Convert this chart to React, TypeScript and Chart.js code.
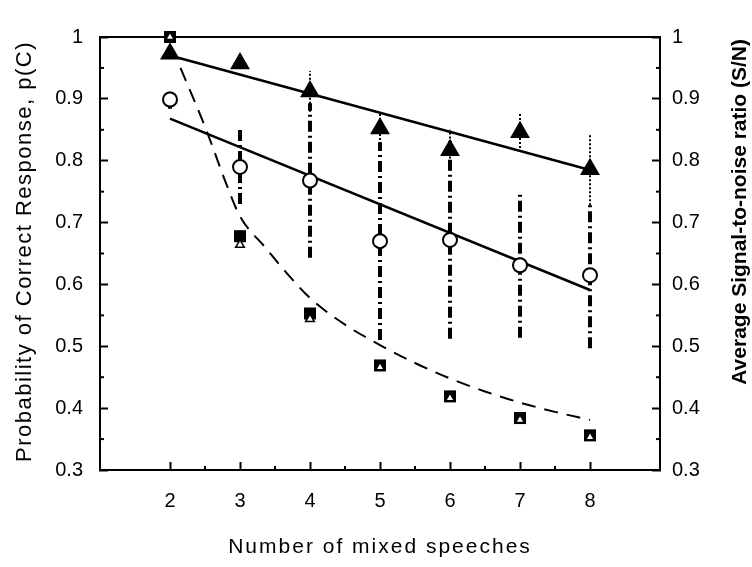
import { useEffect, useRef } from "react";
import { Chart, registerables } from "chart.js";

Chart.register(...registerables);

// ---------- data ----------
const speeches = [2, 3, 4, 5, 6, 7, 8];
// p(C), filled triangles
const pcTriangle = [0.973, 0.957, 0.912, 0.852, 0.817, 0.846, 0.786];
const pcTriangleErr = [0, 0, 0.033, 0.025, 0.033, 0.032, 0.058];
// p(C), open circles
const pcCircle = [0.899, 0.79, 0.768, 0.67, 0.672, 0.631, 0.615];
const pcCircleErr = [0.015, 0.06, 0.125, 0.16, 0.16, 0.117, 0.118];
// S/N, filled squares and open triangles
const snSquare = [1.0, 0.678, 0.553, 0.469, 0.419, 0.384, 0.356];
const snTriangle = [1.0, 0.664, 0.544, 0.466, 0.416, 0.381, 0.353];
// regression lines
const fitUpperX = [2, 8];
const fitUpperY = [0.97, 0.785];
const fitLowerX = [2, 8];
const fitLowerY = [0.868, 0.591];
// S/N fitted curve (dashed)
const snFitX = [2.15, 2.5, 2.83, 3, 3.36, 3.67, 4, 4.5, 5, 5.5, 6, 6.5, 7, 7.5, 8];
const snFitY = [0.95, 0.855, 0.755, 0.71, 0.66, 0.618, 0.578, 0.535, 0.502, 0.473, 0.448, 0.427, 0.409, 0.394, 0.381];

const xTickValues = [2, 3, 4, 5, 6, 7, 8];
const xTickLabels = ["2", "3", "4", "5", "6", "7", "8"];
const yTickValues = [0.3, 0.4, 0.5, 0.6, 0.7, 0.8, 0.9, 1.0];
const yTickLabels = ["0.3", "0.4", "0.5", "0.6", "0.7", "0.8", "0.9", "1"];

const xTitle = "Number of mixed speeches";
const yLeftTitle = "Probability of Correct Response, p(C)";
const yRightTitle = "Average Signal-to-noise ratio (S/N)";

const FONT = "'Liberation Sans', Arial, Helvetica, sans-serif";

const pts = (xs: number[], ys: number[]) => xs.map((x, i) => ({ x, y: ys[i] }));
const bars = (xs: number[], c: number[], e: number[]) =>
  xs.flatMap((x, i) =>
    e[i] > 0
      ? [
          { x, y: c[i] - e[i] },
          { x, y: c[i] + e[i] },
          { x, y: null as any },
        ]
      : []
  );

const labelFor = (vals: number[], labels: string[]) => (v: any) => {
  const i = vals.findIndex((t) => Math.abs(t - Number(v)) < 1e-9);
  return i >= 0 ? labels[i] : "";
};

export default function App() {
  const ref = useRef<HTMLCanvasElement>(null);

  useEffect(() => {
    document.body.style.margin = "0";
    const canvas = ref.current;
    if (!canvas) return;

    const minorTicks = {
      id: "minorTicks",
      afterDraw(chart: any) {
        const c = chart.ctx;
        const a = chart.chartArea;
        const len = 4;
        c.save();
        c.strokeStyle = "#000";
        c.lineWidth = 2;
        const xs = chart.scales.x;
        const xt = xs.ticks.map((t: any) => t.value);
        for (let i = 0; i < xt.length - 1; i++) {
          const px = xs.getPixelForValue((xt[i] + xt[i + 1]) / 2);
          c.beginPath();
          c.moveTo(px, a.bottom);
          c.lineTo(px, a.bottom - len);
          c.stroke();
        }
        for (const id of ["y", "y2"]) {
          const s = chart.scales[id];
          const vt = s.ticks.map((t: any) => t.value);
          const x0 = id === "y" ? a.left : a.right;
          const dir = id === "y" ? 1 : -1;
          for (let i = 0; i < vt.length - 1; i++) {
            const py = s.getPixelForValue((vt[i] + vt[i + 1]) / 2);
            c.beginPath();
            c.moveTo(x0, py);
            c.lineTo(x0 + dir * len, py);
            c.stroke();
          }
        }
        c.restore();
      },
    };

    const axisTitles = {
      id: "axisTitles",
      afterDraw(chart: any) {
        const c = chart.ctx;
        const a = chart.chartArea;
        c.save();
        c.fillStyle = "#000";
        c.textBaseline = "middle";

        // bottom title
        c.font = `21px ${FONT}`;
        (c as any).letterSpacing = "2px";
        c.textAlign = "center";
        c.fillText(xTitle, (a.left + a.right) / 2, 547);

        // left title
        c.save();
        c.font = `22px ${FONT}`;
        (c as any).letterSpacing = "1.5px";
        c.translate(25, (a.top + a.bottom) / 2 - 2);
        c.rotate(-Math.PI / 2);
        c.textAlign = "center";
        c.fillText(yLeftTitle, 0, 0);
        c.restore();

        // right title
        c.save();
        c.font = `bold 21px ${FONT}`;
        (c as any).letterSpacing = "0px";
        c.translate(740, a.top + 2);
        c.rotate(-Math.PI / 2);
        c.textAlign = "right";
        c.fillText(yRightTitle, 0, 0);
        c.restore();

        (c as any).letterSpacing = "0px";
        c.restore();
      },
    };

    const chart = new Chart(canvas, {
      type: "line",
      data: {
        datasets: [
          {
            label: "S/N open triangle",
            data: pts(speeches, snTriangle),
            yAxisID: "y2",
            showLine: false,
            pointStyle: "triangle",
            pointRadius: 5,
            pointBackgroundColor: "#fff",
            pointBorderColor: "#000",
            pointBorderWidth: 1.5,
            clip: false as any,
          },
          {
            label: "S/N square",
            data: pts(speeches, snSquare),
            yAxisID: "y2",
            showLine: false,
            pointStyle: "rect",
            pointRadius: 8.5,
            pointBackgroundColor: "#000",
            pointBorderColor: "#000",
            pointBorderWidth: 0,
            clip: false as any,
          },
          {
            label: "p(C) circle",
            data: pts(speeches, pcCircle),
            yAxisID: "y",
            showLine: false,
            pointStyle: "circle",
            pointRadius: 7,
            pointBackgroundColor: "#fff",
            pointBorderColor: "#000",
            pointBorderWidth: 2,
            clip: false as any,
          },
          {
            label: "p(C) triangle",
            data: pts(speeches, pcTriangle),
            yAxisID: "y",
            showLine: false,
            pointStyle: "triangle",
            pointRadius: 11.5,
            pointBackgroundColor: "#000",
            pointBorderColor: "#000",
            pointBorderWidth: 0,
            clip: false as any,
          },
          {
            label: "triangle error",
            data: bars(speeches, pcTriangle, pcTriangleErr),
            yAxisID: "y",
            borderColor: "#000",
            borderWidth: 2,
            borderDash: [2, 2],
            pointRadius: 0,
            spanGaps: false,
          },
          {
            label: "circle error",
            data: bars(speeches, pcCircle, pcCircleErr),
            yAxisID: "y",
            borderColor: "#000",
            borderWidth: 4,
            borderDash: [11, 4, 2, 4],
            pointRadius: 0,
            spanGaps: false,
          },
          {
            label: "fit upper",
            data: pts(fitUpperX, fitUpperY),
            yAxisID: "y",
            borderColor: "#000",
            borderWidth: 2.5,
            pointRadius: 0,
          },
          {
            label: "fit lower",
            data: pts(fitLowerX, fitLowerY),
            yAxisID: "y",
            borderColor: "#000",
            borderWidth: 2.5,
            pointRadius: 0,
          },
          {
            label: "S/N fit",
            data: pts(snFitX, snFitY),
            yAxisID: "y2",
            borderColor: "#000",
            borderWidth: 2,
            borderDash: [14, 9],
            pointRadius: 0,
            cubicInterpolationMode: "monotone",
          },
        ],
      },
      options: {
        responsive: false,
        animation: false,
        devicePixelRatio: 1,
        events: [],
        layout: { padding: { top: 20, left: 0, right: 0, bottom: 0 } },
        font: { family: FONT },
        plugins: { legend: { display: false }, tooltip: { enabled: false } },
        scales: {
          x: {
            type: "linear",
            position: "bottom",
            min: 1,
            max: 9,
            afterBuildTicks: (s: any) => {
              s.ticks = xTickValues.map((v) => ({ value: v }));
            },
            afterFit: (s: any) => {
              s.height = 97;
            },
            ticks: {
              callback: labelFor(xTickValues, xTickLabels),
              color: "#000",
              font: { family: FONT, size: 20 },
              padding: 27,
              maxRotation: 0,
            },
            grid: { drawOnChartArea: false, tickLength: -8, tickWidth: 2, tickColor: "#000" },
            border: { color: "#000", width: 2 },
            title: { display: false, text: xTitle },
          },
          xTop: {
            type: "linear",
            position: "top",
            min: 1,
            max: 9,
            ticks: { display: false },
            grid: { display: false, drawTicks: false },
            border: { color: "#000", width: 2 },
            afterFit: (s: any) => {
              s.height = 0;
            },
          },
          y: {
            type: "linear",
            position: "left",
            min: 0.3,
            max: 1,
            afterBuildTicks: (s: any) => {
              s.ticks = yTickValues.map((v) => ({ value: v }));
            },
            afterFit: (s: any) => {
              s.width = 100;
            },
            ticks: {
              callback: labelFor(yTickValues, yTickLabels),
              color: "#000",
              font: { family: FONT, size: 20 },
              padding: 25,
            },
            grid: { drawOnChartArea: false, tickLength: -8, tickWidth: 2, tickColor: "#000" },
            border: { color: "#000", width: 2 },
            title: { display: false, text: yLeftTitle },
          },
          y2: {
            type: "linear",
            position: "right",
            min: 0.3,
            max: 1,
            afterBuildTicks: (s: any) => {
              s.ticks = yTickValues.map((v) => ({ value: v }));
            },
            afterFit: (s: any) => {
              s.width = 92;
            },
            ticks: {
              callback: labelFor(yTickValues, yTickLabels),
              color: "#000",
              font: { family: FONT, size: 20 },
              padding: 20,
            },
            grid: { drawOnChartArea: false, tickLength: -8, tickWidth: 2, tickColor: "#000" },
            border: { color: "#000", width: 2 },
          },
        },
      } as any,
      plugins: [minorTicks, axisTitles],
    });

    return () => chart.destroy();
  }, []);

  return (
    <div style={{ position: "absolute", left: 0, top: 0, width: 752, height: 567, background: "#fff" }}>
      <canvas ref={ref} width={752} height={567} style={{ display: "block" }} />
    </div>
  );
}
